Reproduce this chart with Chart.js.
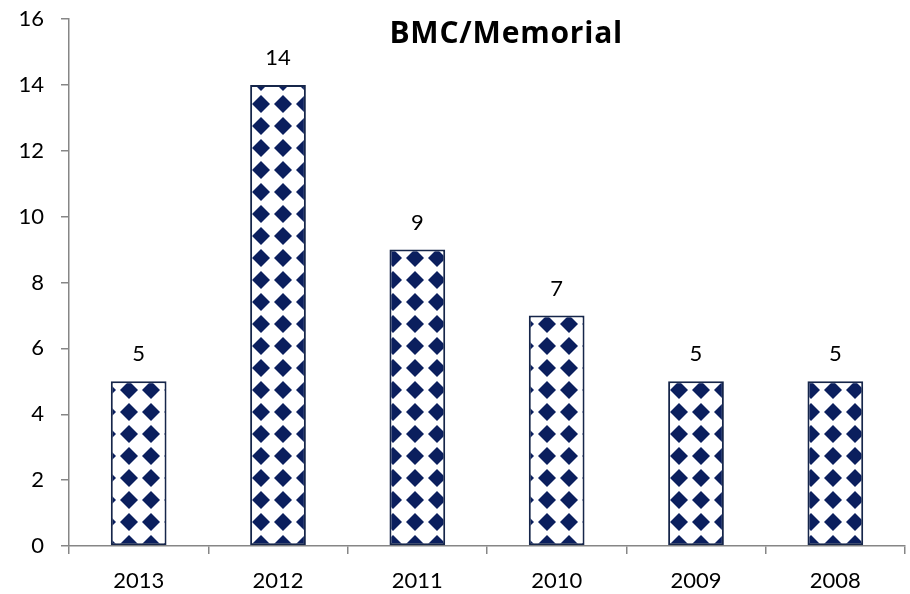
<!DOCTYPE html>
<html>
<head>
<meta charset="utf-8">
<script src="https://cdn.jsdelivr.net/npm/chart.js@4/dist/chart.umd.min.js"></script>
<style>
  html, body { margin:0; padding:0; background:#fff; }
  #wrap { width:910px; height:594px; }
</style>
</head>
<body>
<div id="wrap"><canvas id="chart" width="910" height="594"></canvas></div>
<script>
// data
const years = ['2013', '2012', '2011', '2010', '2009', '2008'];
const counts = [5, 14, 9, 7, 5, 5];
const titleText = 'BMC/Memorial';

const FONT = 'Lato, "Open Sans", sans-serif';
const TITLE_FONT = '"Open Sans", Lato, sans-serif';
const AXIS_GRAY = '#868686';
const NAVY = '#0b1f5e';

// diamond check fill, like the excel pattern fill
function diamondPattern(){
  const c = document.createElement('canvas');
  c.width = 22; c.height = 22;
  const g = c.getContext('2d');
  g.fillStyle = '#fff'; g.fillRect(0,0,22,22);
  g.fillStyle = NAVY;
  const h = 9, cx = 19, cy = 16;
  // wrap copies so the tile repeats cleanly
  for (const [dx,dy] of [[0,0],[-22,0],[0,-22],[-22,-22]]){
    g.beginPath();
    g.moveTo(cx+dx, cy-h+dy); g.lineTo(cx+h+dx, cy+dy); g.lineTo(cx+dx, cy+h+dy); g.lineTo(cx-h+dx, cy+dy);
    g.closePath(); g.fill();
    g.beginPath(); g.arc(cx+dx, cy+dy, 5.8, 0, Math.PI*2); g.fill();
  }
  return g.createPattern(c, 'repeat');
}

const labelsOnTop = {
  id:'labelsOnTop',
  afterDatasetsDraw(chart){
    const {ctx} = chart;
    const meta = chart.getDatasetMeta(0);
    ctx.save();
    ctx.font = '22px ' + FONT;
    ctx.fillStyle = '#000';
    ctx.textAlign = 'center'; ctx.textBaseline = 'middle';
    meta.data.forEach((bar, i)=>{
      ctx.fillText(String(counts[i]), bar.x, bar.y - 27);
    });
    ctx.restore();
  }
};

const floatingTitle = {
  id:'floatingTitle',
  afterDraw(chart){
    const {ctx, chartArea} = chart;
    ctx.save();
    ctx.font = 'bold 30px ' + TITLE_FONT;
    ctx.letterSpacing = '0.8px';
    ctx.fillStyle = '#000';
    ctx.textAlign = 'center'; ctx.textBaseline = 'alphabetic';
    const x = chartArea.left + (chartArea.right - chartArea.left) * 0.523;
    ctx.fillText(titleText, x, chartArea.top + 24);
    ctx.restore();
  }
};

new Chart(document.getElementById('chart'), {
  type:'bar',
  data:{
    labels: years,
    datasets:[{
      data: counts,
      backgroundColor: diamondPattern(),
      borderColor:'#16264a',
      borderWidth:2,
      borderSkipped:false,
      categoryPercentage:1,
      barPercentage:0.4
    }]
  },
  options:{
    responsive:false,
    animation:false,
    layout:{ padding:{ top:19, right:5, left:0, bottom:0 } },
    plugins:{ legend:{ display:false }, tooltip:{ enabled:false }, title:{ display:false } },
    scales:{
      x:{
        grid:{ drawOnChartArea:false, offset:true, color:AXIS_GRAY, tickLength:8, lineWidth:1.5 },
        border:{ color:AXIS_GRAY, width:1.5 },
        ticks:{ color:'#000', font:{ family:FONT, size:22 }, padding:14, maxRotation:0 },
        afterFit(s){ s.height = 48; }
      },
      y:{
        min:0, max:16,
        grid:{ drawOnChartArea:false, color:AXIS_GRAY, tickLength:8, lineWidth:1.5 },
        border:{ color:AXIS_GRAY, width:1.5 },
        ticks:{ stepSize:2, color:'#000', font:{ family:FONT, size:22 }, padding:17 },
        afterFit(s){ s.width = 69; s.paddingTop = 0; s.paddingBottom = 0; }
      }
    }
  },
  plugins:[labelsOnTop, floatingTitle]
});
</script>
</body>
</html>
